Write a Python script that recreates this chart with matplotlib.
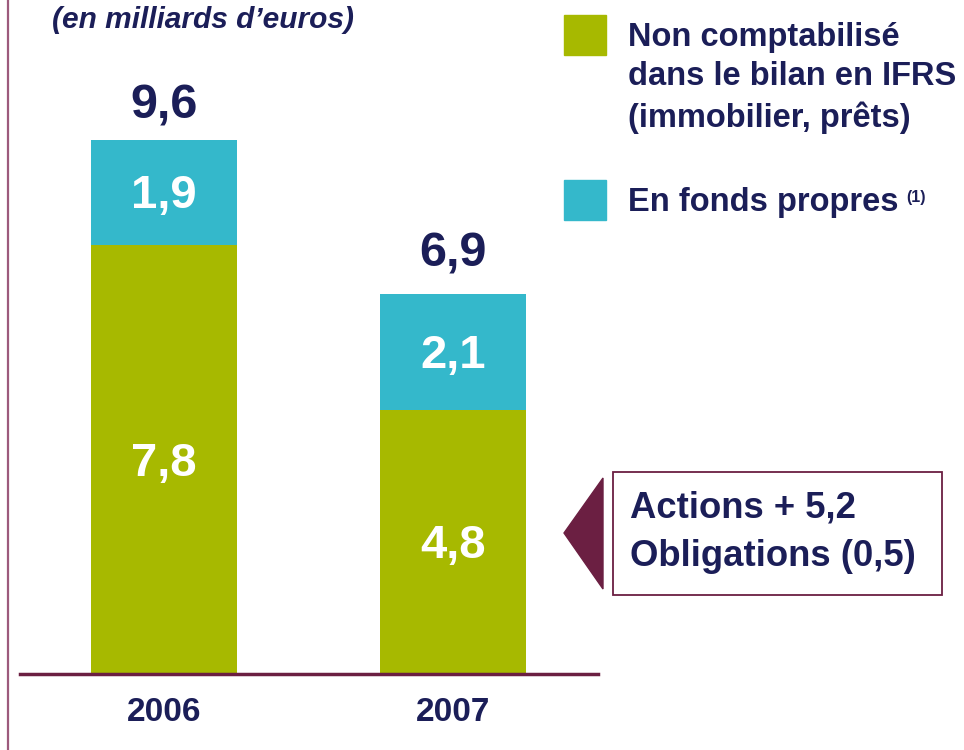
import matplotlib.pyplot as plt
from matplotlib.patches import Rectangle, Polygon

# Data (milliards d'euros)
years = ["2006", "2007"]
hors_bilan = [7.8, 4.8]      # non comptabilisé dans le bilan en IFRS
fonds_propres = [1.9, 2.1]   # en fonds propres
totals = [9.6, 6.9]
detail_lines = ["Actions + 5,2", "Obligations (0,5)"]
legend_labels = ["Non comptabilisé\ndans le bilan en IFRS\n(immobilier, prêts)",
                 "En fonds propres"]

GREEN = "#A7B900"
CYAN = "#34B8CB"
NAVY = "#1B1E58"
MAROON = "#6B1F42"
FONT = ["Liberation Sans", "DejaVu Sans"]

def fmt(v):
    return f"{v:.1f}".replace(".", ",")

W, H = 964, 750
fig = plt.figure(figsize=(W / 100, H / 100), dpi=100)

# overlay in pixel units for the decorations
deco = fig.add_axes([0, 0, 1, 1])
deco.set_xlim(0, W)
deco.set_ylim(H, 0)
deco.axis("off")

# bar chart area: baseline at y=673.5 px, x from 18 to 600 px
ax = fig.add_axes([18 / W, 1 - 673.5 / H, (600 - 18) / W, 673.5 / H])
ax.set_xlim(-0.504, 1.508)
ax.set_ylim(0, 673.5 / 55)
ax.axis("off")

x = range(len(years))
ax.bar(x, hors_bilan, width=0.503, color=GREEN, zorder=2)
ax.bar(x, fonds_propres, width=0.503, bottom=hors_bilan, color=CYAN, zorder=2)
ax.axhline(0, xmin=0.003, xmax=0.997, color=MAROON, lw=2.5, zorder=3,
           clip_on=False)

for i in x:
    ax.text(i, hors_bilan[i] / 2 - 0.09, fmt(hors_bilan[i]), ha="center",
            va="center", color="white", fontsize=34, fontweight="bold",
            family=FONT)
    ax.text(i, hors_bilan[i] + fonds_propres[i] / 2 - 0.07,
            fmt(fonds_propres[i]), ha="center", va="center", color="white",
            fontsize=34, fontweight="bold", family=FONT)
    ax.text(i, totals[i] + 0.72, fmt(totals[i]), ha="center", va="center",
            color=NAVY, fontsize=35, fontweight="bold", family=FONT)
    ax.text(i, -0.71, years[i], ha="center", va="center", color=NAVY,
            fontsize=24, fontweight="bold", family=FONT)

# left rule
deco.plot([7.5, 7.5], [0, H], color="#9C5A7C", lw=1.6)

# title
deco.text(203, 20, "(en milliards d\u2019euros)", ha="center", va="center",
          color=NAVY, fontsize=21.5, fontweight="bold", style="italic",
          family=FONT)

# legend
deco.add_patch(Rectangle((564, 15), 42, 40, color=GREEN))
deco.add_patch(Rectangle((564, 180), 42, 40, color=CYAN))
deco.text(628, 78, legend_labels[0], ha="left", va="center", color=NAVY,
          fontsize=23.5, fontweight="bold", family=FONT, linespacing=1.36)
deco.text(628, 202, legend_labels[1], ha="left", va="center", color=NAVY,
          fontsize=23.5, fontweight="bold", family=FONT)
deco.text(906, 190, "(1)", ha="left", va="top", color=NAVY,
          fontsize=11.5, fontweight="bold", family=FONT)

# detail box with pointer
deco.add_patch(Polygon([[564, 533], [603, 478], [603, 589]], closed=True,
                       color=MAROON))
deco.add_patch(Rectangle((613, 472), 329, 123, fill=False, edgecolor=MAROON,
                         lw=1.3))
deco.text(630, 508, detail_lines[0], ha="left", va="center", color=NAVY,
          fontsize=26.3, fontweight="bold", family=FONT)
deco.text(630, 556, detail_lines[1], ha="left", va="center", color=NAVY,
          fontsize=26.3, fontweight="bold", family=FONT)

fig.savefig("out.png", dpi=100)
